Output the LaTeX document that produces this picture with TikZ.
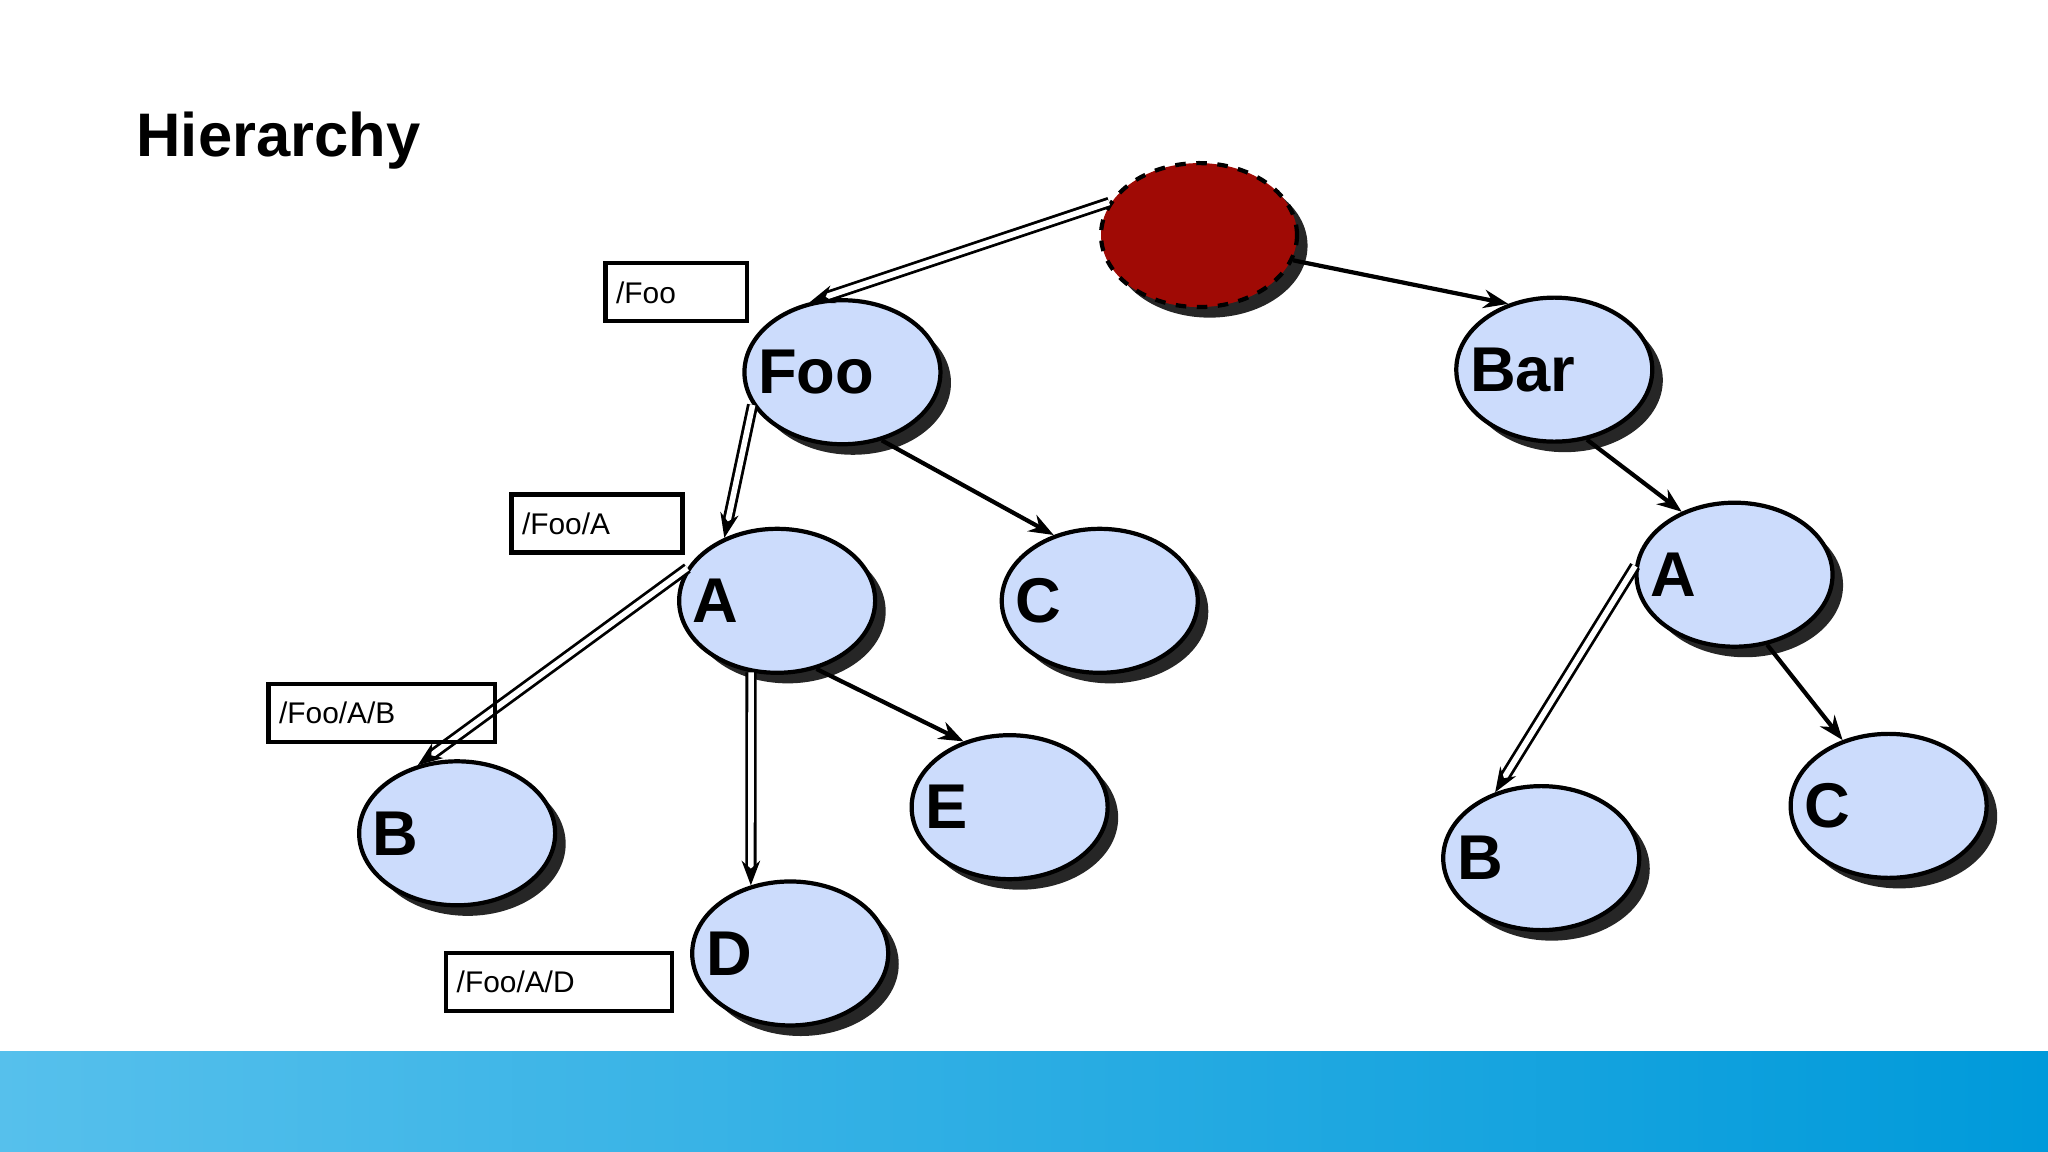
\documentclass[tikz,border=0pt]{standalone}
\usepackage{fontspec}
\setmainfont{Liberation Sans}
\usetikzlibrary{positioning,arrows.meta,shapes.geometric,shadows}
\definecolor{nodeblue}{RGB}{204,220,252}
\definecolor{rootred}{RGB}{160,10,5}
\definecolor{barleft}{RGB}{86,192,236}
\definecolor{barright}{RGB}{0,154,218}
\tikzset{
  elem/.style={ellipse,draw=black,very thick,fill=nodeblue,minimum width=1.96cm,minimum height=1.44cm,
    drop shadow={shadow xshift=3pt,shadow yshift=-3pt,fill=black!85,opacity=1}},
  elemname/.style={font=\fontsize{18}{20}\selectfont\bfseries,anchor=west},
  pathbox/.style={draw=black,very thick,text width=#1,minimum height=0.58cm,font=\fontsize{8.5}{10}\selectfont,inner sep=3pt,align=left},
  child/.style={-{Stealth[length=7pt]},very thick},
  route/.style={-{Stealth[length=7pt]},double=white,double distance=1.6pt,thick}
}
\begin{document}
\begin{tikzpicture}[x=0.01306cm,y=-0.01306cm]
  \useasboundingbox (0,0) rectangle (1568,882);
  \shade[left color=barleft,right color=barright] (0,805) rectangle (1568,882);
  \node (title) [anchor=west,font=\fontsize{17.5}{20}\selectfont\bfseries] at (95,108) {Hierarchy};

  \node (root) [elem,fill=rootred,dashed] at (918,180) {};
  \node (foo) [elem] at (645,285) {};
  \node (bar) [elem] at (1190,283) {};
  \node (fa) [elem] at (595,460) {};
  \node (fc) [elem] at (842,460) {};
  \node (fb) [elem] at (350,638) {};
  \node (fe) [elem] at (773,618) {};
  \node (fd) [elem] at (605,730) {};
  \node (ba) [elem] at (1328,440) {};
  \node (bb) [elem] at (1180,657) {};
  \node (bc) [elem] at (1446,617) {};

  % names sit on the left side of each ellipse
  \foreach \n/\t in {foo/Foo,bar/Bar,fa/A,fc/C,fb/B,fe/E,fd/D,ba/A,bb/B,bc/C}
    \node (\n_name) [elemname] at ([xshift=1pt]\n.west) {\t};

  \draw[route] (root.160) -- (foo.115);
  \draw[route] (foo.200) -- (fa.130);
  \draw[route] (fa.160) -- (fb.120);
  \draw[route] (fa.250) -- (fd.120);
  \draw[route] (ba.175) -- (bb.125);
  \draw[child] (root.-15) -- (bar.125);
  \draw[child] (foo.-60) -- (fc.125);
  \draw[child] (fa.-60) -- (fe.125);
  \draw[child] (bar.-65) -- (ba.130);
  \draw[child] (ba.-65) -- (bc.125);

  \node (p_foo) [pathbox=1.2cm,anchor=north west] at (462,200) {/Foo};
  \node (p_fa) [pathbox=1.5cm,anchor=north west] at (390,377) {/Foo/A};
  \node (p_fb) [pathbox=2.05cm,anchor=north west] at (204,522) {/Foo/A/B};
  \node (p_fd) [pathbox=2.05cm,anchor=north west] at (340,728) {/Foo/A/D};
\end{tikzpicture}
\end{document}
